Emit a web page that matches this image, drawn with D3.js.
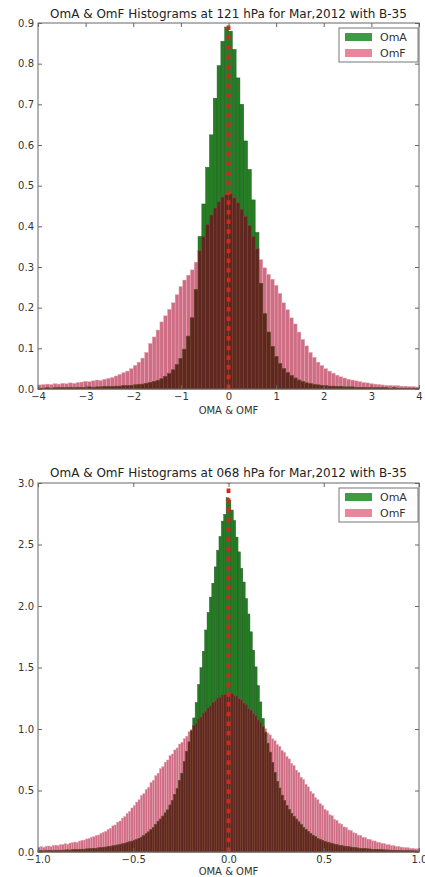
<!DOCTYPE html>
<html><head><meta charset="utf-8">
<script src="https://cdn.jsdelivr.net/npm/d3@7"></script>
<style>body{margin:0;background:#fff}svg{display:block}</style>
</head><body>
<script>
// ---------------- DATA ----------------
const seriesNames = ["OmA", "OmF"];
const xLabel = "OMA & OMF";

const topTitle = "OmA & OmF Histograms at 121 hPa for Mar,2012 with B-35";
const topRange = [-4, 4];           // 100 bins
const topXTicks = [-4, -3, -2, -1, 0, 1, 2, 3, 4];
const topYTicks = [0, 0.1, 0.2, 0.3, 0.4, 0.5, 0.6, 0.7, 0.8, 0.9];
const topOmA = [
  0.002,0.002,0.003,0.002,0.003,0.003,0.003,0.003,0.004,0.003,
  0.004,0.004,0.004,0.005,0.004,0.005,0.005,0.006,0.006,0.006,
  0.007,0.007,0.008,0.008,0.009,0.010,0.011,0.012,0.014,0.016,
  0.018,0.021,0.025,0.031,0.038,0.047,0.060,0.075,0.098,0.130,
  0.175,0.245,0.375,0.455,0.545,0.625,0.715,0.795,0.855,0.890,
  0.880,0.835,0.765,0.700,0.610,0.540,0.465,0.385,0.260,0.185,
  0.140,0.105,0.080,0.063,0.050,0.040,0.033,0.027,0.022,0.018,
  0.015,0.013,0.011,0.010,0.009,0.008,0.007,0.007,0.006,0.006,
  0.005,0.005,0.005,0.004,0.004,0.004,0.003,0.004,0.003,0.003,
  0.003,0.003,0.002,0.003,0.002,0.002,0.002,0.002,0.002,0.001
];
const topOmF = [
  0.010,0.011,0.012,0.011,0.013,0.012,0.014,0.013,0.015,0.014,
  0.016,0.017,0.019,0.018,0.020,0.022,0.021,0.024,0.026,0.028,
  0.032,0.036,0.040,0.044,0.050,0.058,0.066,0.076,0.090,0.112,
  0.128,0.145,0.165,0.180,0.196,0.212,0.232,0.252,0.268,0.280,
  0.293,0.312,0.340,0.375,0.405,0.428,0.445,0.460,0.472,0.478,
  0.480,0.470,0.458,0.442,0.425,0.402,0.375,0.345,0.318,0.298,
  0.282,0.270,0.255,0.235,0.212,0.195,0.175,0.160,0.140,0.122,
  0.106,0.090,0.078,0.066,0.058,0.050,0.044,0.039,0.034,0.030,
  0.027,0.024,0.022,0.020,0.018,0.016,0.015,0.013,0.012,0.011,
  0.010,0.009,0.009,0.008,0.008,0.007,0.007,0.006,0.006,0.005
];

const botTitle = "OmA & OmF Histograms at 068 hPa for Mar,2012 with B-35";
const botRange = [-1, 1];           // 160 bins
const botXTicks = [-1, -0.5, 0, 0.5, 1];
const botYTicks = [0, 0.5, 1.0, 1.5, 2.0, 2.5, 3.0];
const botOmA = [
  0.010,0.012,0.009,0.011,0.013,0.012,0.011,0.014,0.013,0.015,
  0.014,0.016,0.017,0.015,0.018,0.020,0.019,0.021,0.023,0.022,
  0.025,0.026,0.028,0.030,0.029,0.033,0.035,0.038,0.040,0.044,
  0.046,0.050,0.053,0.057,0.061,0.066,0.070,0.076,0.082,0.088,
  0.096,0.101,0.112,0.121,0.134,0.148,0.163,0.181,0.198,0.224,
  0.248,0.268,0.292,0.318,0.342,0.382,0.418,0.468,0.515,0.582,
  0.640,0.735,0.818,0.895,0.985,1.090,1.215,1.362,1.498,1.632,
  1.805,1.948,2.072,2.185,2.318,2.452,2.565,2.690,2.745,2.880,
  2.860,2.780,2.695,2.560,2.440,2.305,2.195,2.060,1.935,1.790,
  1.640,1.505,1.352,1.220,1.085,0.975,0.885,0.812,0.728,0.648,
  0.575,0.520,0.462,0.418,0.378,0.346,0.315,0.290,0.268,0.245,
  0.222,0.200,0.182,0.165,0.150,0.136,0.124,0.110,0.102,0.094,
  0.086,0.080,0.074,0.068,0.064,0.059,0.055,0.051,0.048,0.045,
  0.042,0.040,0.037,0.034,0.032,0.030,0.028,0.027,0.025,0.024,
  0.022,0.021,0.020,0.019,0.018,0.017,0.016,0.015,0.015,0.014,
  0.013,0.013,0.012,0.011,0.011,0.010,0.010,0.009,0.009,0.008
];
const botOmF = [
  0.040,0.044,0.039,0.047,0.049,0.044,0.053,0.056,0.051,0.060,
  0.061,0.068,0.063,0.073,0.076,0.081,0.077,0.089,0.095,0.097,
  0.106,0.110,0.121,0.124,0.135,0.138,0.152,0.160,0.168,0.185,
  0.193,0.213,0.220,0.243,0.252,0.276,0.288,0.314,0.330,0.358,
  0.378,0.406,0.425,0.459,0.475,0.509,0.527,0.565,0.584,0.620,
  0.641,0.678,0.694,0.731,0.748,0.783,0.797,0.830,0.846,0.878,
  0.892,0.922,0.941,0.978,0.996,1.030,1.048,1.083,1.097,1.130,
  1.145,1.174,1.188,1.216,1.227,1.252,1.259,1.279,1.280,1.292,
  1.285,1.289,1.272,1.268,1.246,1.236,1.211,1.199,1.168,1.154,
  1.124,1.106,1.074,1.055,1.021,1.003,0.968,0.952,0.921,0.905,
  0.874,0.860,0.826,0.810,0.776,0.757,0.721,0.703,0.666,0.647,
  0.608,0.590,0.551,0.530,0.494,0.475,0.441,0.425,0.394,0.380,
  0.348,0.335,0.304,0.295,0.266,0.257,0.234,0.227,0.204,0.199,
  0.179,0.174,0.157,0.153,0.137,0.136,0.119,0.118,0.105,0.103,
  0.091,0.090,0.080,0.078,0.070,0.069,0.060,0.060,0.052,0.052,
  0.045,0.046,0.040,0.039,0.035,0.035,0.030,0.030,0.026,0.026
];

// ---------------- DRAW ----------------
const W = 425, H = 877;
const FONT = "'DejaVu Sans', sans-serif";
const C = {
  green: "#267d26", greenEdge: "#1a5a1a",
  pink: "#cf6d84", pinkEdge: "#e9a7b5",
  brown: "#5e2820", brownEdge: "#8a4a3c",
  legGreen: "#3f9a45", legPink: "#e8879b",
  red: "#dc231b", axis: "#666", text: "#333"
};

const svg = d3.select("body").append("svg").attr("width", W).attr("height", H)
  .style("font-family", FONT);

function fitTitle(sel, target, base) {
  const w = sel.node().getComputedTextLength();
  if (w > 0) sel.attr("font-size", (base * target / w).toFixed(2) + "px");
}

function panel(cfg) {
  const {l, r, t, b} = cfg.box;
  const x = d3.scaleLinear().domain(cfg.range).range([l, r]);
  const y = d3.scaleLinear().domain([cfg.yTicks[0], cfg.yTicks[cfg.yTicks.length - 1]]).range([b, t]);
  const n = cfg.oma.length;
  const bw = (cfg.range[1] - cfg.range[0]) / n;
  const bins = d3.range(n).map(i => ({
    x0: cfg.range[0] + i * bw, x1: cfg.range[0] + (i + 1) * bw,
    a: cfg.oma[i], f: cfg.omf[i]
  }));
  const g = svg.append("g");

  function bars(val, fill, edge) {
    g.append("g").selectAll("rect").data(bins).join("rect")
      .attr("x", d => x(d.x0))
      .attr("width", d => Math.max(0, x(d.x1) - x(d.x0)))
      .attr("y", d => y(val(d)))
      .attr("height", d => y(0) - y(val(d)))
      .attr("fill", fill).attr("stroke", edge).attr("stroke-width", 0.45);
  }
  bars(d => d.f, C.pink, C.pinkEdge);
  bars(d => d.a, C.green, C.greenEdge);
  bars(d => Math.min(d.a, d.f), C.brown, C.brownEdge);

  // red dashed zero line
  g.append("path")
    .attr("d", d3.line()([[x(0), y(0)], [x(0), y(cfg.yTicks[cfg.yTicks.length - 1])]]))
    .attr("stroke", C.red).attr("stroke-width", 3.8)
    .attr("stroke-dasharray", "4.5,5.2").attr("fill", "none");

  // frame
  g.append("rect").attr("x", l).attr("y", t).attr("width", r - l).attr("height", b - t)
    .attr("fill", "none").attr("stroke", C.axis).attr("stroke-width", 1);

  const styleAxis = sel => {
    sel.select(".domain").remove();
    sel.selectAll(".tick line").attr("stroke", C.axis);
    sel.selectAll(".tick text").attr("fill", C.text).attr("font-size", "10px").attr("font-family", FONT);
  };
  g.append("g").attr("transform", `translate(0,${b})`)
    .call(d3.axisBottom(x).tickValues(cfg.xTicks).tickFormat(cfg.xFmt).tickSize(-4).tickPadding(4))
    .call(styleAxis);
  g.append("g").attr("transform", `translate(0,${t})`)
    .call(d3.axisTop(x).tickValues(cfg.xTicks).tickFormat("").tickSize(-4))
    .call(styleAxis);
  g.append("g").attr("transform", `translate(${l},0)`)
    .call(d3.axisLeft(y).tickValues(cfg.yTicks).tickFormat(cfg.yFmt).tickSize(-4).tickPadding(4))
    .call(styleAxis);
  g.append("g").attr("transform", `translate(${r},0)`)
    .call(d3.axisRight(y).tickValues(cfg.yTicks).tickFormat("").tickSize(-4))
    .call(styleAxis);

  // title
  const tt = g.append("text").attr("x", (l + r) / 2).attr("y", cfg.titleY)
    .attr("text-anchor", "middle").attr("fill", "#222").attr("font-size", "11px").text(cfg.title);
  fitTitle(tt, 357, 11);

  // x label
  g.append("text").attr("x", (l + r) / 2).attr("y", cfg.xLabelY)
    .attr("text-anchor", "middle").attr("fill", C.text).attr("font-size", "10px").text(xLabel);

  // legend
  const lx = r - 80, ly = t + 5;
  const lg = g.append("g");
  lg.append("rect").attr("x", lx).attr("y", ly).attr("width", 79).attr("height", 34)
    .attr("fill", "#fff").attr("stroke", "#777").attr("stroke-width", 1);
  const legCols = [C.legGreen, C.legPink];
  seriesNames.forEach((s, i) => {
    lg.append("rect").attr("x", lx + 6).attr("y", ly + 5 + i * 16).attr("width", 27).attr("height", 8)
      .attr("fill", legCols[i]);
    lg.append("text").attr("x", lx + 41).attr("y", ly + 13 + i * 16)
      .attr("font-size", "11px").attr("fill", C.text).text(s);
  });
}

const minus = s => s.replace("-", "\u2212");
panel({
  title: topTitle, oma: topOmA, omf: topOmF, range: topRange,
  xTicks: topXTicks, yTicks: topYTicks,
  xFmt: d => minus(d3.format("d")(d)), yFmt: d3.format(".1f"),
  box: {l: 38, r: 419, t: 23, b: 389}, titleY: 18, xLabelY: 414
});
panel({
  title: botTitle, oma: botOmA, omf: botOmF, range: botRange,
  xTicks: botXTicks, yTicks: botYTicks,
  xFmt: d => minus(d3.format(".1f")(d)), yFmt: d3.format(".1f"),
  box: {l: 38, r: 419, t: 483, b: 852}, titleY: 477, xLabelY: 875
});
</script>
</body></html>
